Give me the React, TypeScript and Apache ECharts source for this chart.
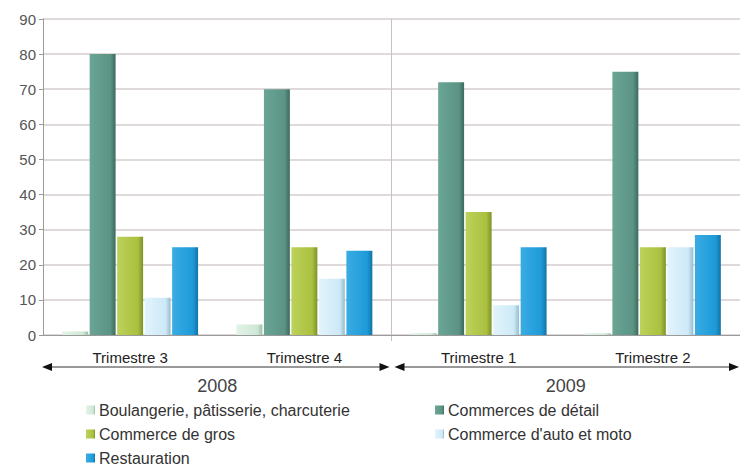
import React, { useEffect, useRef } from "react";
import * as echarts from "echarts";

const categories = ["Trimestre 3", "Trimestre 4", "Trimestre 1", "Trimestre 2"];
const years = ["2008", "2009"];
const seriesNames = [
  "Boulangerie, pâtisserie, charcuterie",
  "Commerces de détail",
  "Commerce de gros",
  "Commerce d'auto et moto",
  "Restauration",
];
const boulangerie = [1, 3, 0.5, 0.5];
const detail = [80, 70, 72, 75];
const gros = [28, 25, 35, 25];
const auto = [10.6, 16, 8.5, 25];
const restauration = [25, 24, 25, 28.5];
const yTicks = { min: 0, max: 90, interval: 10 };

const colors = ["#cfe8d6", "#5b9384", "#a9c040", "#cde9f7", "#1d9ad8"];
const darks = ["#9fc0a8", "#3b6a5e", "#7c9228", "#98bccf", "#1373a5"];
const lights = ["#e3f3e8", "#6aa595", "#bcd25a", "#e2f4fc", "#3aace3"];

function grad(i: number) {
  return new echarts.graphic.LinearGradient(0, 0, 1, 0, [
    { offset: 0, color: lights[i] },
    { offset: 0.8, color: colors[i] },
    { offset: 1, color: darks[i] },
  ]);
}

export default function App() {
  const ref = useRef<HTMLDivElement>(null);
  useEffect(() => {
    document.body.style.margin = "0";
    const chart = echarts.init(ref.current!, null, { renderer: "svg" });
    const dataSets = [boulangerie, detail, gros, auto, restauration];
    const font = "'Liberation Sans', Arial, sans-serif";
    const legendBase = {
      top: 402,
      height: 90,
      orient: "vertical",
      padding: 0,
      itemWidth: 9,
      itemHeight: 9,
      itemGap: 8,
      icon: "rect",
      textStyle: { fontSize: 16, color: "#333", fontFamily: font, padding: [0, 0, 0, -1] },
    };
    chart.setOption({
      animation: false,
      backgroundColor: "#ffffff",
      textStyle: { fontFamily: font },
      grid: { left: 43, right: -3, top: 19, bottom: 131, containLabel: false },
      legend: [
        { ...legendBase, left: 86, data: [seriesNames[0], seriesNames[2], seriesNames[4]] },
        { ...legendBase, left: 435, data: [seriesNames[1], seriesNames[3]] },
      ],
      xAxis: {
        type: "category",
        data: categories,
        axisLine: { lineStyle: { color: "#9a9a9a", width: 1 } },
        axisTick: { show: false },
        axisLabel: { color: "#222", fontSize: 15, margin: 15, fontFamily: font },
      },
      yAxis: {
        type: "value",
        min: yTicks.min,
        max: yTicks.max,
        interval: yTicks.interval,
        axisLine: { show: true, lineStyle: { color: "#9a9a9a" } },
        axisTick: { show: true, length: 4, lineStyle: { color: "#9a9a9a" } },
        axisLabel: { color: "#555", fontSize: 15, margin: 7, fontFamily: font },
        splitLine: { lineStyle: { color: "#d6cccc", width: 1.5 } },
      },
      series: dataSets.map((d, i) => ({
        name: seriesNames[i],
        type: "bar",
        data: d,
        barGap: "6%",
        barCategoryGap: "22%",
        itemStyle: { color: grad(i) },
      })),
    });

    const c0 = chart.convertToPixel({ xAxisIndex: 0 }, 0) as number;
    const c1 = chart.convertToPixel({ xAxisIndex: 0 }, 1) as number;
    const c2 = chart.convertToPixel({ xAxisIndex: 0 }, 2) as number;
    const c3 = chart.convertToPixel({ xAxisIndex: 0 }, 3) as number;
    const w = c1 - c0;
    const gl = c0 - w / 2;
    const gr = c3 + w / 2;
    const div = (c1 + c2) / 2;
    const yTop = chart.convertToPixel({ yAxisIndex: 0 }, yTicks.max) as number;
    const yZero = chart.convertToPixel({ yAxisIndex: 0 }, 0) as number;
    const ay = yZero + 32;
    const lc = "#333";
    const arrow = (x1: number, x2: number) => [
      { type: "line", shape: { x1: x1 + 6, y1: ay, x2: x2 - 6, y2: ay }, style: { stroke: lc, lineWidth: 1 } },
      { type: "polygon", shape: { points: [[x1, ay], [x1 + 10, ay - 4], [x1 + 10, ay + 4]] }, style: { fill: "#111" } },
      { type: "polygon", shape: { points: [[x2, ay], [x2 - 10, ay - 4], [x2 - 10, ay + 4]] }, style: { fill: "#111" } },
    ];
    chart.setOption({
      graphic: [
        { type: "line", shape: { x1: div, y1: yTop, x2: div, y2: yZero + 6 }, style: { stroke: "#c9c0c0", lineWidth: 1 } },
        ...arrow(gl - 1, div - 2),
        ...arrow(div + 3, 739),
        {
          type: "text",
          x: (gl + div) / 2,
          y: ay + 19,
          style: { text: years[0], fill: "#444", font: `18px ${font}`, textAlign: "center", textVerticalAlign: "middle" },
        },
        {
          type: "text",
          x: (div + gr) / 2,
          y: ay + 19,
          style: { text: years[1], fill: "#444", font: `18px ${font}`, textAlign: "center", textVerticalAlign: "middle" },
        },
      ],
    });
    return () => chart.dispose();
  }, []);
  return <div ref={ref} style={{ width: 740, height: 466 }} />;
}
